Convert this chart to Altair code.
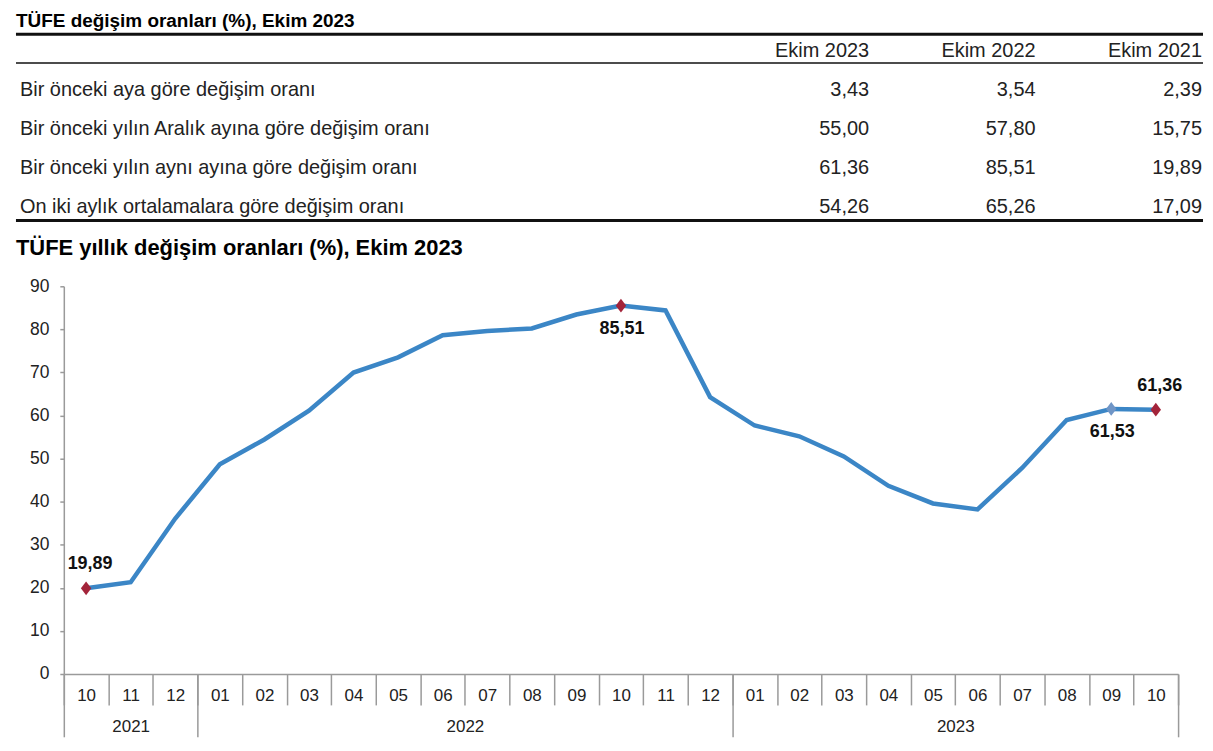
import altair as alt
import pandas as pd

title_table = "TÜFE değişim oranları (%), Ekim 2023"
title_chart = "TÜFE yıllık değişim oranları (%), Ekim 2023"

# ---- table data ----
row_labels = [
    "Bir önceki aya göre değişim oranı",
    "Bir önceki yılın Aralık ayına göre değişim oranı",
    "Bir önceki yılın aynı ayına göre değişim oranı",
    "On iki aylık ortalamalara göre değişim oranı",
]
col_labels = ["Ekim 2023", "Ekim 2022", "Ekim 2021"]
ekim_2023 = [3.43, 55.00, 61.36, 54.26]
ekim_2022 = [3.54, 57.80, 85.51, 65.26]
ekim_2021 = [2.39, 15.75, 19.89, 17.09]

# ---- line chart data ----
months = ["10", "11", "12", "01", "02", "03", "04", "05", "06", "07", "08", "09",
          "10", "11", "12", "01", "02", "03", "04", "05", "06", "07", "08", "09", "10"]
years = ["2021"] * 3 + ["2022"] * 12 + ["2023"] * 10
annual = [19.89, 21.31, 36.08, 48.69, 54.44, 61.14, 69.97, 73.50, 78.62, 79.60,
          80.21, 83.45, 85.51, 84.39, 64.27, 57.68, 55.18, 50.51, 43.68, 39.59,
          38.21, 47.83, 58.94, 61.53, 61.36]
marked_red = ["2021-10", "2022-10", "2023-10"]
marked_blue = ["2023-09"]
label_above = ["2021-10", "2023-10"]
label_below = ["2022-10", "2023-09"]

FONT = "Liberation Sans"
TXT = "#222222"
GRAY = "#9a9a9a"
LINE = "#3b86c6"
RED = "#a3243a"
BLUE2 = "#6f95c6"
DIAMOND = "M0,-1.25L0.95,0L0,1.25L-0.95,0Z"

# ================= table (with both headings) =================
T1, HDR, T2 = "__title1__", "__header__", "__title2__"
row_domain = [T1, HDR] + row_labels + [T2]
TW, TH = 1143, 188
LEFT = -48
ys = alt.Scale(type="point", domain=row_domain, range=[-22.6, 213.2], padding=0)
xs = alt.Scale(type="point", domain=col_labels, range=[808, 1142], padding=0)

cells = pd.DataFrame({
    "row": row_labels * 3,
    "col": [c for c in col_labels for _ in row_labels],
    "v": ekim_2023 + ekim_2022 + ekim_2021,
})
cells["text"] = cells["v"].map(lambda v: f"{v:.2f}".replace(".", ","))
hdr = pd.DataFrame({"row": [HDR] * len(col_labels), "col": col_labels, "text": col_labels})
labs = pd.DataFrame({"row": row_labels, "text": row_labels})

txt_kw = dict(baseline="middle", font=FONT, fontSize=20, color=TXT)
yrow = alt.Y("row:N", scale=ys, axis=None)
xcol = alt.X("col:N", scale=xs, axis=None)

num_layer = alt.Chart(cells).mark_text(align="right", **txt_kw).encode(x=xcol, y=yrow, text="text:N")
hdr_layer = alt.Chart(hdr).mark_text(align="right", **txt_kw).encode(x=xcol, y=yrow, text="text:N")
lab_layer = alt.Chart(labs).mark_text(align="left", **txt_kw).encode(
    x=alt.value(LEFT + 4), y=yrow, text="text:N")

ttl_kw = dict(align="left", baseline="alphabetic", font=FONT, fontWeight="bold", color="#000000")
ttl1 = alt.Chart(pd.DataFrame({"row": [T1], "text": [title_table]})).mark_text(
    dy=15.6, fontSize=19, **ttl_kw).encode(x=alt.value(LEFT), y=yrow, text="text:N")
ttl2 = alt.Chart(pd.DataFrame({"row": [T2], "text": [title_chart]})).mark_text(
    dy=8.5, fontSize=22, **ttl_kw).encode(x=alt.value(LEFT), y=yrow, text="text:N")


def table_rule(row, width, off):
    return alt.Chart(pd.DataFrame({"row": [row]})).mark_rule(
        strokeWidth=width, color="#111111", yOffset=off).encode(
        y=yrow, x=alt.value(LEFT), x2=alt.value(TW))


rule_top = table_rule(HDR, 3, -16.7)
rule_mid = table_rule(HDR, 1.5, 12.3)
rule_bot = table_rule(row_labels[-1], 3, 13)

table = alt.layer(rule_top, rule_mid, rule_bot, ttl1, ttl2, lab_layer, hdr_layer,
                  num_layer).properties(width=TW, height=TH)

# ================= line chart =================
n = len(annual)
df = pd.DataFrame({"month": months, "year": years, "value": annual})
bounds = [0] + [i for i in range(1, n) if years[i] != years[i - 1]] + [n]
centers = [(bounds[i] + bounds[i + 1]) / 2 for i in range(len(bounds) - 1)]
month_arr = "[" + ",".join(f"'{m}'" for m in months) + "]"
year_arr = "[" + ",".join(f"'{y}'" for y in years) + "]"

base = alt.Chart(df).transform_window(idx="row_number()").transform_calculate(
    pos="datum.idx - 0.5",
    key="datum.year + '-' + datum.month",
    lbl="replace(format(datum.value, '.2f'), '.', ',')",
)

xscale = alt.Scale(domain=[0, n], nice=False, zero=False)
yenc = alt.Y("value:Q", scale=alt.Scale(domain=[0, 90], nice=False),
             axis=alt.Axis(values=list(range(0, 91, 10)), title=None, grid=False, tickSize=4,
                           tickColor=GRAY, tickWidth=1.5, domainColor=GRAY, domainWidth=1.5,
                           labelFont=FONT, labelFontSize=17.5, labelColor=TXT, labelPadding=11))

common = dict(orient="bottom", title=None, grid=False, labelFlush=False)
axis_ticks = alt.Axis(values=list(range(n + 1)), labels=False, tickSize=31, tickColor=GRAY,
                      tickWidth=1.5, domainColor=GRAY, domainWidth=1.5, **common)
axis_year_ticks = alt.Axis(values=bounds, labels=False, tickSize=63, tickColor=GRAY,
                           tickWidth=1.5, domain=False, **common)
axis_months = alt.Axis(values=[i + 0.5 for i in range(n)], ticks=False, tickSize=0, domain=False,
                       labelExpr=f"{month_arr}[floor(datum.value)]", labelFont=FONT,
                       labelFontSize=17, labelColor=TXT, labelPadding=22, labelBaseline="middle",
                       labelAlign="center", labelOverlap=False, **common)
axis_years = alt.Axis(values=centers, ticks=False, tickSize=0, domain=False,
                      labelExpr=f"{year_arr}[floor(datum.value)]", labelFont=FONT,
                      labelFontSize=17, labelColor=TXT, labelPadding=53, labelBaseline="middle",
                      labelAlign="center", labelOverlap=False, **common)

line = base.mark_line(color=LINE, strokeWidth=4.5).encode(
    x=alt.X("pos:Q", scale=xscale, axis=axis_ticks), y=yenc)
red_pts = base.transform_filter(alt.FieldOneOfPredicate(field="key", oneOf=marked_red)).mark_point(
    shape=DIAMOND, filled=True, size=121, color=RED, opacity=1).encode(
    x=alt.X("pos:Q", scale=xscale, axis=axis_year_ticks), y=yenc)
blue_pts = base.transform_filter(alt.FieldOneOfPredicate(field="key", oneOf=marked_blue)).mark_point(
    shape=DIAMOND, filled=True, size=121, color=BLUE2, opacity=1).encode(
    x=alt.X("pos:Q", scale=xscale, axis=axis_months), y=yenc)
lab_kw = dict(font=FONT, fontSize=18, fontWeight="bold", color="#111111", baseline="middle")
txt_above = base.transform_filter(alt.FieldOneOfPredicate(field="key", oneOf=label_above)).mark_text(
    dy=-24, dx=4, **lab_kw).encode(
    x=alt.X("pos:Q", scale=xscale, axis=axis_years), y=yenc, text="lbl:N")
txt_below = base.transform_filter(alt.FieldOneOfPredicate(field="key", oneOf=label_below)).mark_text(
    dy=23, dx=1, **lab_kw).encode(
    x=alt.X("pos:Q", scale=xscale, axis=None), y=yenc, text="lbl:N")

linechart = alt.layer(line, red_pts, blue_pts, txt_above, txt_below).resolve_axis(
    x="independent").properties(width=1118, height=389)

chart = alt.vconcat(table, linechart, spacing=18).properties(
    padding={"left": 6, "top": 3, "right": 0, "bottom": 0},
    background="white",
).configure_view(stroke=None)

chart.save("out.html", embed_options={"renderer": "svg", "actions": False})
